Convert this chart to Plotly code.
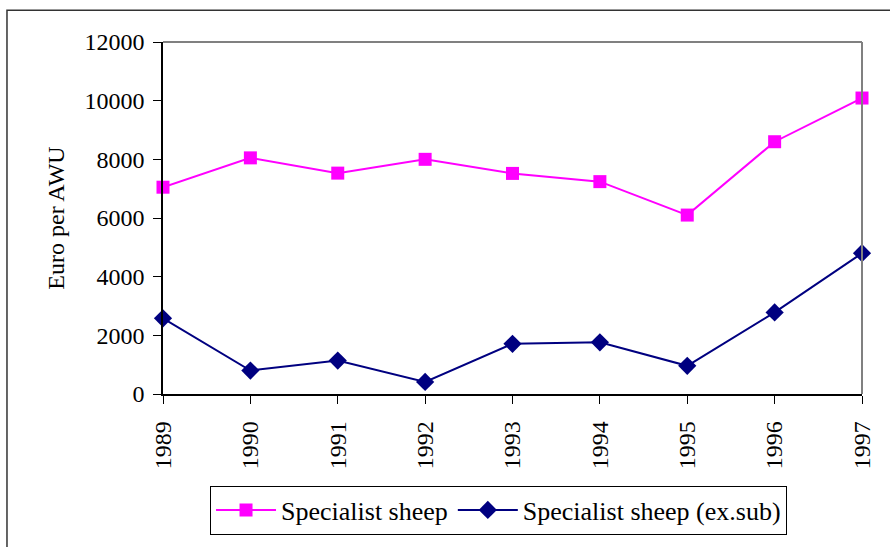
import plotly.graph_objects as go

years = ["1989", "1990", "1991", "1992", "1993", "1994", "1995", "1996", "1997"]
sheep = [7050, 8050, 7530, 8000, 7520, 7240, 6100, 8600, 10090]
sheep_exsub = [2580, 800, 1140, 410, 1710, 1760, 960, 2780, 4800]
y_ticks = [0, 2000, 4000, 6000, 8000, 10000, 12000]

FONT = "Liberation Serif, Times New Roman, serif"

fig = go.Figure()
fig.add_trace(go.Scatter(
    x=years, y=sheep, name="Specialist sheep", mode="lines+markers",
    line=dict(color="#FF00FF", width=2),
    marker=dict(symbol="square", size=13, color="#FF00FF"),
    cliponaxis=False,
))
fig.add_trace(go.Scatter(
    x=years, y=sheep_exsub, name="Specialist sheep (ex.sub)", mode="lines+markers",
    line=dict(color="#000080", width=2),
    marker=dict(symbol="diamond", size=14, color="#000080"),
    cliponaxis=False,
))

fig.update_layout(
    width=890, height=547,
    margin=dict(l=163, r=28, t=42, b=151),
    paper_bgcolor="white", plot_bgcolor="white",
    font=dict(family=FONT, size=24, color="black"),
    showlegend=True,
    legend=dict(
        orientation="h", x=0.48, xanchor="center", y=-0.26, yanchor="top",
        bordercolor="black", borderwidth=1, bgcolor="white",
        font=dict(family=FONT, size=26), itemwidth=60,
    ),
    xaxis=dict(
        type="category", range=[0, 8], showgrid=False, zeroline=False,
        showline=True, linecolor="black", linewidth=1.5,
        ticks="outside", ticklen=8, tickcolor="black",
        tickangle=-90, tickfont=dict(size=24), ticklabelstandoff=8,
    ),
    xaxis2=dict(
        overlaying="x", anchor="y", side="bottom", range=[0, 8], dtick=1,
        showgrid=False, zeroline=False, showticklabels=False,
        ticks="inside", ticklen=8, tickcolor="black",
    ),
    yaxis=dict(
        range=[0, 12000], tickvals=y_ticks, tickformat="d",
        showgrid=False, zeroline=False,
        showline=True, linecolor="black", linewidth=1.5,
        ticks="outside", ticklen=8, tickcolor="black",
        ticklabelstandoff=4, tickfont=dict(size=24),
        title=dict(text="Euro per AWU", font=dict(size=24), standoff=13),
    ),
    yaxis2=dict(
        overlaying="y", anchor="x", side="left", range=[0, 12000], tickvals=y_ticks,
        showgrid=False, zeroline=False, showticklabels=False,
        ticks="inside", ticklen=8, tickcolor="black",
    ),
)

# gray frame on top and right of the plot area
fig.add_shape(type="line", xref="paper", yref="paper", x0=0, x1=1, y0=1, y1=1,
              line=dict(color="#808080", width=2))
fig.add_shape(type="line", xref="paper", yref="paper", x0=1, x1=1, y0=0, y1=1,
              line=dict(color="#808080", width=2))
# outer chart border (clipped at right/bottom)
fig.add_shape(type="rect", xref="paper", yref="paper", x0=-0.2232, x1=1.2, y0=-0.6, y1=1.0904,
              line=dict(color="#333333", width=1.5), layer="below")

fig.write_html("out.html", config={"displayModeBar": False},
               post_script="document.body.style.margin='0';")
